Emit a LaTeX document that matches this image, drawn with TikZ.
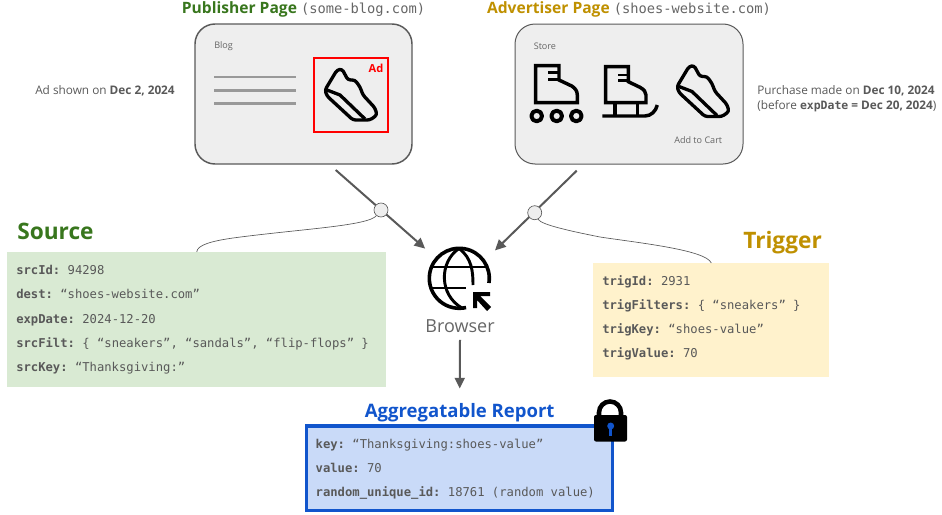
\documentclass[tikz,border=0pt]{standalone}
\usepackage{fontspec}
\setmainfont{Open Sans}
\setmonofont{DejaVu Sans Mono}
\usetikzlibrary{arrows.meta}
\definecolor{cGreen}{HTML}{38761D}
\definecolor{cGold}{HTML}{BF9000}
\definecolor{cBlue}{HTML}{1155CC}
\definecolor{cInk}{HTML}{595959}
\definecolor{cText}{HTML}{666666}
\definecolor{cPage}{HTML}{EEEEEE}
\definecolor{cSrcFill}{HTML}{D9EAD3}
\definecolor{cTrigFill}{HTML}{FFF2CC}
\definecolor{cRepFill}{HTML}{C9DAF8}
\tikzset{
	pagebox/.style={draw=cInk, fill=cPage, line width=1.1pt, rounded corners=15pt, minimum width=162.75pt, minimum height=105pt, inner sep=0pt},
	pagetitle/.style={font=\fontsize{11.7pt}{14pt}\selectfont\bfseries, text=#1, inner sep=0pt},
	codebox/.style={fill=#1, font=\fontsize{9.15pt}{18.1pt}\selectfont\ttfamily\frenchspacing, text=cInk, align=flush left, anchor=north west, inner xsep=6.75pt, inner ysep=0pt},
	heading/.style={font=\fontsize{17pt}{18pt}\selectfont\bfseries, text=#1, inner sep=0pt},
	small/.style={font=\fontsize{6.8pt}{8pt}\selectfont, text=cText, inner sep=0pt},
	side/.style={font=\fontsize{8.85pt}{11.2pt}\selectfont, text=cInk, inner sep=0pt, align=flush left},
	flow/.style={draw=cInk, line width=1.5pt, -{Triangle[length=8pt,width=7.5pt]}},
	tie/.style={draw=cInk, line width=0.5pt},
	tiedot/.style={circle, draw=cInk, fill=cPage, line width=0.5pt, minimum size=10.5pt, inner sep=0pt},
	icon/.style={line width=2.2pt, line join=round},
	shoe/.pic={
		\draw[icon, line width=2.5pt, rounded corners=2pt] (1,22) -- (13,2) -- (18,1) -- (24,12) -- (31,12) -- (36,19) -- (39,27) -- (51,40) -- (53,47) -- (46,52) -- (29,52) -- (3,28) -- cycle;
		\draw[icon, line width=2.5pt] (3,22) -- (16,27) -- (41,51);
	},
}
\begin{document}
\begin{tikzpicture}[x=0.75pt, y=-0.75pt]
	\useasboundingbox (0,0) rectangle (942,514);
	% pages
	\node[pagebox] (pubPage) at (303.5,94) {};
	\node[pagebox, line width=0.75pt, minimum width=171pt] (advPage) at (629,94) {};
	\node[pagetitle=cGreen] (pubTitle) at (303.5,9) {Publisher Page {\mdseries\ttfamily\fontsize{10.3pt}{12pt}\selectfont\color{cText} (some-blog.com)}};
	\node[pagetitle=cGold] (advTitle) at (629,9) {Advertiser Page {\mdseries\ttfamily\fontsize{10.3pt}{12pt}\selectfont\color{cText} (shoes-website.com)}};
	\node[small, anchor=west] (blogLabel) at (214,46.5) {Blog};
	\node[small, anchor=west] (storeLabel) at (533.5,46) {Store};
	\node[small, anchor=west] (cartLabel) at (674,140) {Add to Cart};
	% blog lines
	\draw[line width=2.2pt, draw=black!40] (214,77) -- (296,77) (214,90.5) -- (296,90.5) (214,103.5) -- (296,103.5);
	% ad
	\node[draw=red, line width=1.5pt, minimum width=55.5pt, minimum height=55.5pt, inner sep=0pt] (adBox) at (350.5,95) {};
	\node[font=\fontsize{8.3pt}{10pt}\selectfont\bfseries, text=red, inner sep=0pt] (adLabel) at (376,68) {Ad};
	\pic at (324,68) {shoe};
	\pic at (676,64.5) {shoe};
	% roller skate
	\draw[icon, line width=2.6pt, line join=miter] (535.7,65.7) -- (559,65.7) -- (559,80) -- (571.7,86) .. controls (575,88) and (577.3,91) .. (577.3,95) -- (577.3,102.7) -- (535.7,102.7) -- cycle;
	\draw[icon] (548,72.7) -- (559,72.7) (548,79.3) -- (559,79.3);
	\foreach \x in {536.7,556.7,576.3}
		\draw[icon, line width=3pt] (\x,116) circle (4pt);
	% ice skate
	\draw[icon, line width=2.6pt, line join=miter] (605.7,66.7) -- (628.3,66.7) -- (628.3,81.7) -- (640,87.3) .. controls (644,89.5) and (646,92) .. (646,95) -- (646,102.7) -- (605.7,102.7) -- cycle;
	\draw[icon] (618,75) -- (628.3,75) (618,80.7) -- (628.3,80.7);
	\draw[icon, line width=2.6pt] (615,102.7) -- (615,116) (637.3,102.7) -- (637.3,116);
	\draw[icon, line width=2.6pt] (602.3,116) -- (645,116) .. controls (651,116) and (656,111) .. (657.3,105);
	% side notes
	\node[side, anchor=west] (adNote) at (35,90.5) {Ad shown on \textbf{Dec 2, 2024}};
	\node[side, anchor=west] (buyNote) at (757,98.5) {Purchase made on \textbf{Dec 10, 2024}\\(before {\ttfamily\bfseries\fontsize{8.6pt}{11.2pt}\selectfont expDate} \textbf{= Dec 20, 2024})};
	% parameter boxes
	\node[heading=cGreen, anchor=west] (srcTitle) at (17,231) {Source};
	\node[heading=cGold, anchor=west] (trigTitle) at (743,242.5) {Trigger};
	\node[codebox=cSrcFill, minimum width=284.25pt, minimum height=101.25pt, text width=270.75pt] (source) at (7,252) {\textbf{srcId:} 94298\\\textbf{dest:} “shoes-website.com”\\\textbf{expDate:} 2024-12-20\\\textbf{srcFilt:} \{ “sneakers”, “sandals”, “flip-flops” \}\\\textbf{srcKey:} “Thanksgiving:”};
	\node[codebox=cTrigFill, minimum width=177pt, minimum height=85.5pt, text width=163.5pt] (trigger) at (593,263) {\textbf{trigId:} 2931\\\textbf{trigFilters:} \{ “sneakers” \}\\\textbf{trigKey:} “shoes-value”\\\textbf{trigValue:} 70\\[-12.8pt]\mbox{}};
	% browser
	\node[circle, minimum size=67.5pt, inner sep=0pt] (browser) at (459.3,278.3) {};
	\draw[icon, line width=2.7pt] (browser.center) ++(-9:22.5pt) arc[start angle=-9, end angle=283, radius=22.5pt];
	\draw[icon] (431,267) -- (488,267) (430,288) -- (466,288);
	\draw[icon] (459,248.5) .. controls (439,262) and (439,295) .. (462,308);
	\draw[icon] (459,248.5) .. controls (472,258) and (473,272) .. (473,285);
	\fill (473,292) -- (490,292) -- (490,296) -- (480,296) -- (491,307) -- (487,311) -- (477,300) -- (477,308) -- (473,308) -- cycle;
	\node[font=\fontsize{13.5pt}{16pt}\selectfont, text=cText, inner sep=5.25pt] (browserLabel) at (460,326) {Browser};
	% report
	\node[heading=cBlue, font=\fontsize{13.9pt}{16pt}\selectfont\bfseries, inner ysep=11.25pt] (reportTitle) at (459.7,413) {Aggregatable Report};
	\node[codebox=cRepFill, draw=cBlue, line width=2.5pt, outer sep=0pt, minimum width=229.5pt, minimum height=63.5pt, text width=216pt] (report) at (306.7,426) {\rule{0pt}{8.6pt}\textbf{key:} “Thanksgiving:shoes-value”\\\textbf{value:} 70\\\textbf{random\_unique\_id:} 18761 (random value)};
	% lock
	\draw[line width=3.4pt] (599,417) -- (599,412.5) arc[start angle=180, end angle=0, radius=8.25pt] -- (621,417);
	\fill[rounded corners=1.5pt] (594,415) rectangle (627,441.5);
	\fill[cBlue] (610.7,426) circle (2.6pt);
	\fill[cBlue] (609,427) rectangle (612.4,436);
	% connectors
	\coordinate (pubOut) at (335.7,170);
	\coordinate (advOut) at (576.7,170.7);
	\draw[flow] (pubOut) -- (browser.139);
	\draw[flow] (advOut) -- (browser.38);
	\draw[flow] (browserLabel.south) -- (reportTitle.north);
	\node[tiedot] (srcDot) at (381,210) {};
	\node[tiedot] (trigDot) at (534.7,212.7) {};
	\draw[tie] (srcDot) .. controls (368,226) and (300,229) .. (233,238) .. controls (212,241) and (197,245) .. (source.north);
	\draw[tie] (trigDot) .. controls (541,225) and (575,232) .. (600,237) .. controls (640,243) and (706,250) .. (trigger.north);
\end{tikzpicture}
\end{document}
